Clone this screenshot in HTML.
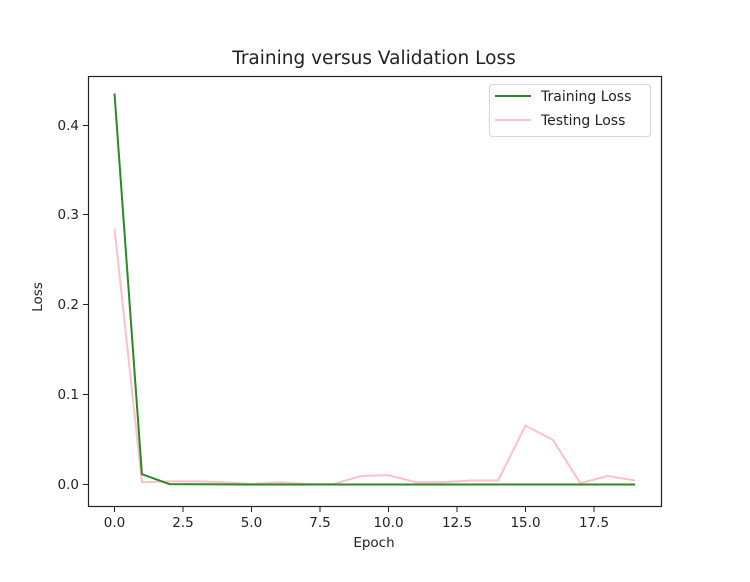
<!DOCTYPE html>
<html><head><style>body{margin:0;background:#fff}</style></head><body>
<svg width="750" height="577" xmlns="http://www.w3.org/2000/svg" font-family="DejaVu Sans, Liberation Sans, sans-serif">
<rect width="750" height="577" fill="#fff"/>
<text x="374" y="64" font-size="18.5" text-anchor="middle" fill="#222">Training versus Validation Loss</text>
<g fill="none" stroke-linejoin="round">
<polyline stroke="#ffc0cb" stroke-width="2" points="114.5,228.5 141.9,482.3 169.3,481.4 196.7,481.4 224.1,482.3 251.5,484.1 278.9,482.3 306.3,484.1 333.7,484.1 361.1,476 388.5,475.1 415.9,482.3 443.3,482.3 470.7,480.5 498.1,480.5 525.5,425.6 552.9,440 580.3,483.2 607.7,476 635.1,480.5"/>
<polyline stroke="#2a8a22" stroke-width="2" points="114.5,93.5 141.9,474.2 169.3,484.1 196.7,484.3 224.1,484.4 251.5,484.5 278.9,484.5 306.3,484.5 333.7,484.5 361.1,484.5 388.5,484.5 415.9,484.5 443.3,484.5 470.7,484.5 498.1,484.5 525.5,484.5 552.9,484.5 580.3,484.5 607.7,484.5 635.1,484.5"/>
</g>
<rect x="88.5" y="76.5" width="573" height="430" fill="none" stroke="#222" stroke-width="1.2"/>
<g stroke="#222" stroke-width="1">
<line x1="114.5" y1="507" x2="114.5" y2="512"/><line x1="183" y1="507" x2="183" y2="512"/><line x1="251.5" y1="507" x2="251.5" y2="512"/><line x1="320" y1="507" x2="320" y2="512"/><line x1="388.5" y1="507" x2="388.5" y2="512"/><line x1="457" y1="507" x2="457" y2="512"/><line x1="525.5" y1="507" x2="525.5" y2="512"/><line x1="594" y1="507" x2="594" y2="512"/>
<line x1="83" y1="484.5" x2="88" y2="484.5"/><line x1="83" y1="394.5" x2="88" y2="394.5"/><line x1="83" y1="304.5" x2="88" y2="304.5"/><line x1="83" y1="214.5" x2="88" y2="214.5"/><line x1="83" y1="125.5" x2="88" y2="125.5"/>
</g>
<g font-size="13.5" fill="#222" text-anchor="middle">
<text x="114.5" y="527">0.0</text><text x="183" y="527">2.5</text><text x="251.5" y="527">5.0</text><text x="320" y="527">7.5</text><text x="388.5" y="527">10.0</text><text x="457" y="527">12.5</text><text x="525.5" y="527">15.0</text><text x="594" y="527">17.5</text>
<text x="374" y="547">Epoch</text>
</g>
<g font-size="13.5" fill="#222" text-anchor="end">
<text x="79" y="489">0.0</text><text x="79" y="399">0.1</text><text x="79" y="309">0.2</text><text x="79" y="219">0.3</text><text x="79" y="130">0.4</text>
</g>
<text x="42" y="297" font-size="13.5" fill="#222" text-anchor="middle" transform="rotate(-90 42 297)">Loss</text>
<rect x="489.5" y="84.5" width="161" height="52" rx="3" fill="#fff" stroke="#d8d8d8"/>
<line x1="495" y1="96" x2="531" y2="96" stroke="#2a8a22" stroke-width="2"/>
<line x1="495" y1="120" x2="531" y2="120" stroke="#ffc0cb" stroke-width="2"/>
<text x="541" y="101" font-size="14" fill="#222">Training Loss</text>
<text x="541" y="125" font-size="14" fill="#222">Testing Loss</text>
</svg>
</body></html>
